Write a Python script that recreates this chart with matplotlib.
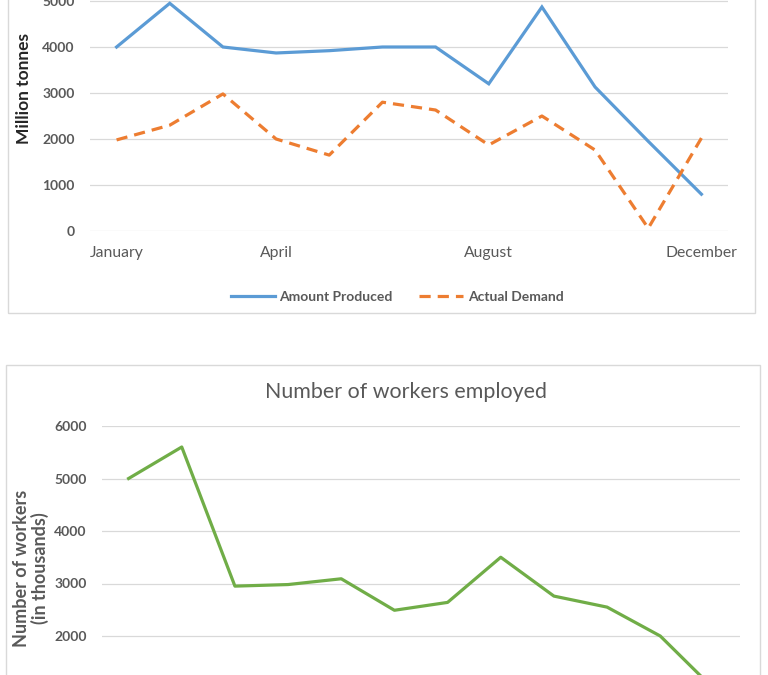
import matplotlib
matplotlib.use('Agg')
import matplotlib.pyplot as plt
from matplotlib.patches import Rectangle

plt.rcParams['font.family'] = ['Lato', 'DejaVu Sans']

W, H = 768, 675

months = ['January', 'February', 'March', 'April', 'May', 'June', 'July',
          'August', 'September', 'October', 'November', 'December']
shown_months = ['January', 'April', 'August', 'December']

amount_produced = [4000, 4950, 4000, 3870, 3920, 4000, 4000, 3200, 4870, 3130, 1950, 800]
actual_demand = [1980, 2300, 2980, 2000, 1650, 2800, 2630, 1870, 2500, 1760, 60, 2020]
workers = [5000, 5600, 2950, 2980, 3090, 2490, 2640, 3500, 2760, 2550, 2000, 1000]

blue = '#5B9BD5'
orange = '#ED7D31'
green = '#70AD47'
grey_txt = '#595959'
grid_c = '#D9D9D9'


def px_rect(left, top, right, bottom):
    return [left / W, 1 - bottom / H, (right - left) / W, (bottom - top) / H]


fig = plt.figure(figsize=(W / 100, H / 100), dpi=100)

# panel frames
fig.patches.append(Rectangle((8 / W, 1 - 313 / H), (755 - 8) / W, 340 / H,
                             transform=fig.transFigure, fill=False,
                             edgecolor=grid_c, lw=1))
fig.patches.append(Rectangle((6 / W, 1 - 700 / H), (760 - 6) / W, (700 - 365) / H,
                             transform=fig.transFigure, fill=False,
                             edgecolor=grid_c, lw=1))


def style(ax, ticks):
    for s in ax.spines.values():
        s.set_visible(False)
    ax.set_xlim(-0.5, 11.5)
    ax.set_ylim(0, 6000)
    ax.set_yticks(ticks)
    ax.grid(axis='y', color=grid_c, lw=0.9)
    ax.set_axisbelow(True)
    ax.tick_params(length=0)
    ax.tick_params(axis='y', pad=11, labelsize=10, labelcolor=grey_txt)
    for t in ax.get_yticklabels():
        t.set_fontweight('bold')


# top chart
ax1 = fig.add_axes(px_rect(90, -45, 728, 231))
x = list(range(len(months)))
ax1.plot(x, amount_produced, color=blue, lw=2.3, label='Amount Produced',
         solid_joinstyle='miter')
ax1.plot(x, actual_demand, color=orange, lw=2.3, ls=(0, (3.5, 2.2)),
         label='Actual Demand')
style(ax1, range(0, 7000, 1000))
ax1.set_xticks([months.index(m) for m in shown_months])
ax1.set_xticklabels(shown_months)
ax1.tick_params(axis='x', pad=11, labelsize=11.3, labelcolor=grey_txt)

fig.text(24 / W, 1 - 88 / H, 'Million tonnes', rotation=90, ha='center',
         va='center', fontsize=12.5, fontweight='bold', color='#262626')

leg = fig.legend(loc='center', bbox_to_anchor=(397 / W, 1 - 297 / H), ncol=2,
                 frameon=False, fontsize=10, handlelength=3.2,
                 handletextpad=0.3, columnspacing=1.9)
for t in leg.get_texts():
    t.set_color(grey_txt)
    t.set_fontweight('bold')

# bottom chart
ax2 = fig.add_axes(px_rect(102, 426, 740, 741))
ax2.plot(x, workers, color=green, lw=2.3)
style(ax2, range(2000, 7000, 1000))
ax2.set_xticks([])

fig.text(406 / W, 1 - 392 / H, 'Number of workers employed', ha='center',
         va='center', fontsize=15.4, color=grey_txt)
fig.text(31 / W, 1 - 568 / H, 'Number of workers\n(in thousands)', rotation=90,
         ha='center', va='center', fontsize=13, fontweight='bold',
         color=grey_txt, linespacing=1.0)

fig.savefig('out.png', dpi=100)
